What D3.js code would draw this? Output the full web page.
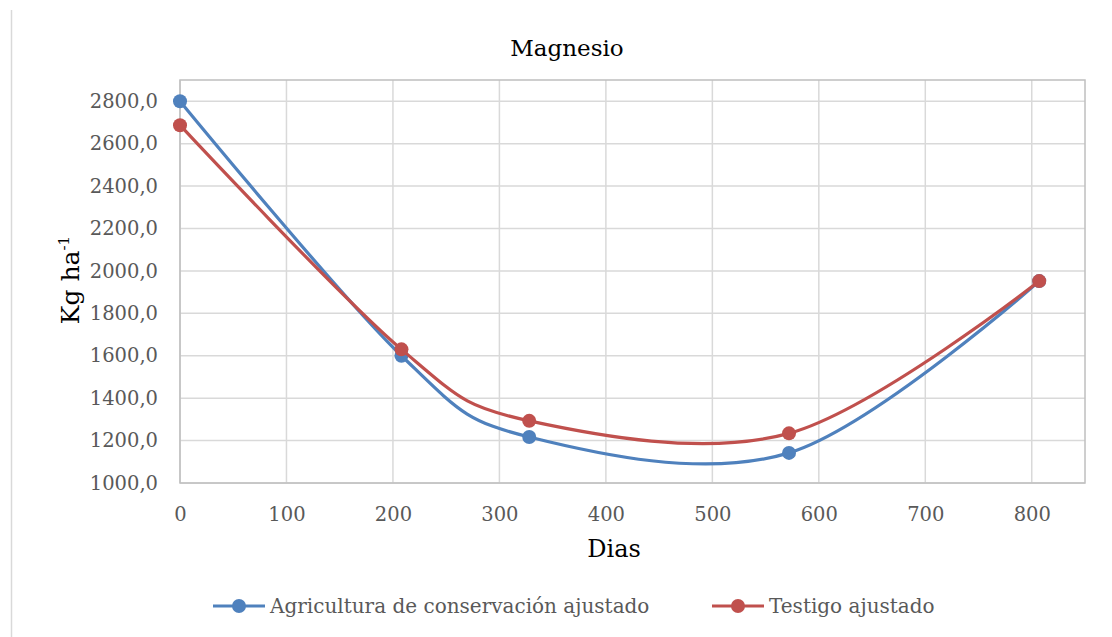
<!DOCTYPE html>
<meta charset="utf-8">
<body style="margin:0;background:#fff">
<svg width="1112" height="637"></svg>
<script src="https://cdn.jsdelivr.net/npm/d3@7"></script>
<script>
  // data
  var dias = [0, 208, 328, 572, 807];
  var agricultura = [2800, 1600, 1217, 1142, 1952];
  var testigo = [2687, 1630, 1293, 1234, 1952];
  var seriesNames = ['Agricultura de conservación ajustado', 'Testigo ajustado'];
  var seriesColors = ['#4f81bd', '#c0504d'];
  var xTicks = [0, 100, 200, 300, 400, 500, 600, 700, 800];
  var yTicks = [1000, 1200, 1400, 1600, 1800, 2000, 2200, 2400, 2600, 2800];

  var svg = d3.select('svg');
  var font = '"DejaVu Serif", serif';
  var plotLeft = 180, plotRight = 1085, plotTop = 80, plotBottom = 483;

  var x = d3.scaleLinear().domain([0, 850]).range([plotLeft, plotRight]);
  var y = d3.scaleLinear().domain([1000, 2900]).range([plotBottom, plotTop]);

  // outer frame line on the left
  svg.append('line')
    .attr('x1', 11.5).attr('x2', 11.5).attr('y1', 10).attr('y2', 637)
    .attr('stroke', '#d9d9d9').attr('stroke-width', 1.5);

  // grid
  var grid = svg.append('g');
  grid.selectAll('.gx').data(xTicks).enter().append('line')
    .attr('x1', function (d) { return x(d); })
    .attr('x2', function (d) { return x(d); })
    .attr('y1', plotTop).attr('y2', plotBottom)
    .attr('stroke', '#d9d9d9').attr('stroke-width', 1.5);
  grid.selectAll('.gy').data(yTicks).enter().append('line')
    .attr('x1', plotLeft).attr('x2', plotRight)
    .attr('y1', function (d) { return y(d); })
    .attr('y2', function (d) { return y(d); })
    .attr('stroke', '#d9d9d9').attr('stroke-width', 1.5);
  svg.append('rect')
    .attr('x', plotLeft).attr('y', plotTop)
    .attr('width', plotRight - plotLeft).attr('height', plotBottom - plotTop)
    .attr('fill', 'none').attr('stroke', '#bfbfbf').attr('stroke-width', 1.5);

  // axes
  var xAxis = svg.append('g')
    .attr('transform', 'translate(0,' + plotBottom + ')')
    .call(d3.axisBottom(x).tickValues(xTicks).tickSize(0).tickPadding(31));
  var yAxis = svg.append('g')
    .attr('transform', 'translate(' + plotLeft + ',0)')
    .call(d3.axisLeft(y).tickValues(yTicks).tickSize(0).tickPadding(22)
      .tickFormat(function (d) { return d + ',0'; }));
  [xAxis, yAxis].forEach(function (a) {
    a.select('.domain').remove();
    a.selectAll('text')
      .style('font-family', font).style('font-size', '19.5px').attr('fill', '#595959');
  });
  xAxis.selectAll('text').attr('dy', '0.35em');

  // title and axis titles
  svg.append('text')
    .attr('x', 567).attr('y', 56)
    .attr('text-anchor', 'middle')
    .style('font-family', font).style('font-size', '23px')
    .text('Magnesio');

  svg.append('text')
    .attr('x', 614).attr('y', 557)
    .attr('text-anchor', 'middle')
    .style('font-family', font).style('font-size', '24px')
    .text('Dias');

  var yt = svg.append('text')
    .attr('transform', 'translate(79,280) rotate(-90)')
    .attr('text-anchor', 'middle')
    .style('font-family', font).style('font-size', '25px');
  yt.append('tspan').text('Kg ha');
  yt.append('tspan').attr('dy', -10).style('font-size', '15px').text('-1');

  // series
  var series = [agricultura, testigo];
  var line = d3.line()
    .curve(d3.curveCatmullRom.alpha(0))
    .x(function (d) { return x(d[0]); })
    .y(function (d) { return y(d[1]); });

  series.forEach(function (vals, s) {
    var pts = dias.map(function (d, i) { return [d, vals[i]]; });
    svg.append('path')
      .datum(pts)
      .attr('fill', 'none')
      .attr('stroke', seriesColors[s])
      .attr('stroke-width', 3.2)
      .attr('d', line);
    svg.selectAll('.dot' + s).data(pts).enter().append('circle')
      .attr('cx', function (d) { return x(d[0]); })
      .attr('cy', function (d) { return y(d[1]); })
      .attr('r', 7)
      .attr('fill', seriesColors[s]);
  });

  // legend
  var legendX = [213, 712];
  seriesNames.forEach(function (name, s) {
    var lg = svg.append('g').attr('transform', 'translate(' + legendX[s] + ',606)');
    lg.append('line').attr('x1', 0).attr('x2', 52).attr('y1', 0).attr('y2', 0)
      .attr('stroke', seriesColors[s]).attr('stroke-width', 3.2);
    lg.append('circle').attr('cx', 26).attr('cy', 0).attr('r', 7).attr('fill', seriesColors[s]);
    lg.append('text').attr('x', 57).attr('y', 7)
      .style('font-family', font).style('font-size', '20px').attr('fill', '#595959')
      .text(name);
  });
</script>
</body>
